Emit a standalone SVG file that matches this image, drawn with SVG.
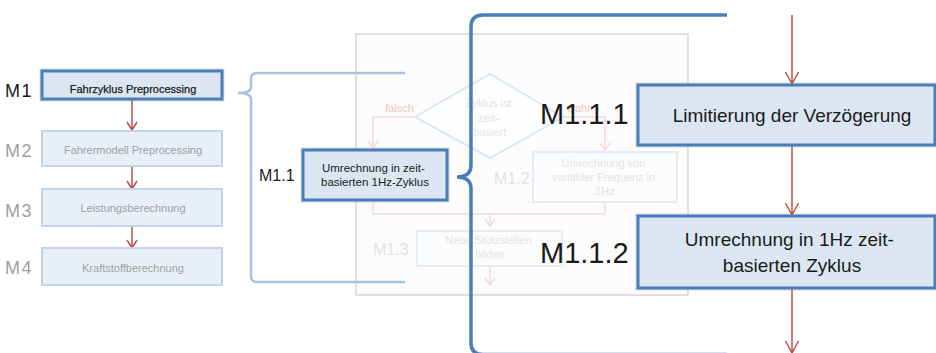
<svg xmlns="http://www.w3.org/2000/svg" width="936" height="353" viewBox="0 0 936 353">
  <defs>
    <style>
      text { font-family: "Liberation Sans", Arial, sans-serif; }
      .halo { fill: none; stroke: #8c8c8c; stroke-opacity: 0.3; stroke-width: 5; }
      .main { fill: #DCE6F2; stroke: #4A7EBB; stroke-width: 3; }
      .dim { fill: #E9EFF7; stroke: #C3D3E9; stroke-width: 2; }
      .ghost { fill: #FBFCFE; stroke: #E5ECF6; stroke-width: 2; }
      .flow { fill: none; stroke: #C0504D; stroke-width: 1.5; }
      .flowghost { fill: none; stroke: #F6DAD9; stroke-width: 1.5; }
      .lbl { fill: #1a1a1a; }
      .dimtxt { fill: #A0A0A0; }
      .ghosttxt { fill: #E3E3E3; }
      .brace-light { fill: none; stroke: #A9C2E3; stroke-width: 2.5; }
      .brace-dark { fill: none; stroke: #4A7EBB; stroke-width: 3.5; }
    </style>
  </defs>

  <rect width="936" height="353" fill="#ffffff"/>

  <!-- background sub-flowchart (faded) -->
  <g id="frame">
    <rect x="356" y="34" width="332" height="261" fill="#FCFCFC" stroke="#D6D6D6" stroke-width="1.5"/>
  </g>
  <g id="ghost-connectors">
    <path class="flowghost" d="M415,117 H373 V148"/>
    <path class="flowghost" d="M368,141 L373,148 L378,141"/>
    <path class="flowghost" d="M563,117 H605 V150"/>
    <path class="flowghost" d="M600,143 L605,150 L610,143"/>
    <path class="flowghost" d="M373,200 V214 H605 V202"/>
    <path class="flowghost" d="M490,214 V226"/>
    <path class="flowghost" d="M485,219 L490,226 L495,219"/>
    <path class="flowghost" d="M490,266 V285"/>
    <path class="flowghost" d="M485,278 L490,285 L495,278"/>
    <text x="414" y="112" text-anchor="end" font-size="11" fill="#F3C4C3">falsch</text>
    <text x="567" y="112" font-size="11" fill="#F3C4C3">wahr</text>
  </g>
  <g id="ghost-decision">
    <polygon points="490,74 563,117 490,158 415,117" fill="#FDFEFF" stroke="#DDE7F3" stroke-width="2"/>
    <text class="ghosttxt" font-size="11" text-anchor="middle">
      <tspan x="490" y="107">Zyklus ist</tspan>
      <tspan x="490" y="122">zeit-</tspan>
      <tspan x="490" y="136">basiert</tspan>
    </text>
  </g>
  <g id="ghost-m12">
    <rect class="ghost" x="533" y="152" width="144" height="50"/>
    <text class="ghosttxt" font-size="11" text-anchor="middle">
      <tspan x="605" y="167">Umrechnung von</tspan>
      <tspan x="605" y="181">variabler Frequenz in</tspan>
      <tspan x="605" y="195">1Hz</tspan>
    </text>
    <text class="ghosttxt" x="494" y="184" font-size="16">M1.2</text>
  </g>
  <g id="ghost-m13">
    <rect class="ghost" x="417" y="231" width="145" height="35"/>
    <text class="ghosttxt" font-size="11" text-anchor="middle">
      <tspan x="490" y="244">Neue Stützstellen</tspan>
      <tspan x="490" y="258">bilden</tspan>
    </text>
    <text class="ghosttxt" x="373" y="255" font-size="16">M1.3</text>
  </g>

  <!-- left process chain -->
  <g id="connectors">
    <path class="flow" d="M132,99 V130 M127,122 L132,130 L137,122"/>
    <path class="flow" d="M132,167 V189 M127,181 L132,189 L137,181"/>
    <path class="flow" d="M132,226 V248 M127,240 L132,248 L137,240"/>
    <path class="flow" d="M792,15 V84 M785.5,72 L792,84 L798.5,72"/>
    <path class="flow" d="M792,146 V215 M785.5,203 L792,215 L798.5,203"/>
    <path class="flow" d="M792,289 V353 M785.5,341 L792,353 L798.5,341"/>
  </g>

  <g id="m1">
    <rect class="halo" x="42" y="71" width="180" height="28"/>
    <rect class="main" x="42" y="71" width="180" height="28"/>
    <text class="lbl" x="133" y="93" font-size="11" text-anchor="middle" stroke="#1a1a1a" stroke-width="0.25">Fahrzyklus Preprocessing</text>
    <text class="lbl" x="5" y="97" font-size="18" letter-spacing="1.5">M1</text>
  </g>
  <g id="m2">
    <rect class="dim" x="42" y="131" width="180" height="35"/>
    <text class="dimtxt" x="133" y="154" font-size="11" text-anchor="middle">Fahrermodell Preprocessing</text>
    <text class="dimtxt" x="5" y="157" font-size="18" letter-spacing="1.5">M2</text>
  </g>
  <g id="m3">
    <rect class="dim" x="42" y="189" width="180" height="37"/>
    <text class="dimtxt" x="133" y="212" font-size="11" text-anchor="middle">Leistungsberechnung</text>
    <text class="dimtxt" x="5" y="217" font-size="18" letter-spacing="1.5">M3</text>
  </g>
  <g id="m4">
    <rect class="dim" x="42" y="248" width="180" height="37"/>
    <text class="dimtxt" x="133" y="272" font-size="11" text-anchor="middle">Kraftstoffberechnung</text>
    <text class="dimtxt" x="5" y="274" font-size="18" letter-spacing="1.5">M4</text>
  </g>

  <!-- expansion of M1 -->
  <g id="brace-m1">
    <path class="brace-light" d="M405,73 H257 Q251,73 251,79 V87 Q251,93 238,93 Q251,93 251,99 V276 Q251,282 257,282 H405"/>
  </g>
  <g id="m1-1">
    <rect class="halo" x="303" y="150" width="144" height="50"/>
    <rect class="main" x="303" y="150" width="144" height="50"/>
    <text class="lbl" font-size="11.5" text-anchor="middle">
      <tspan x="375" y="172">Umrechnung in zeit-</tspan>
      <tspan x="375" y="186">basierten 1Hz-Zyklus</tspan>
    </text>
    <text class="lbl" x="259" y="181" font-size="16">M1.1</text>
  </g>

  <!-- expansion of M1.1 -->
  <g id="brace-m1-1">
    <path class="brace-dark" d="M727,15 H483 Q471,15 471,27 V165 Q471,177 457,177 Q471,177 471,189 V343 Q471,354.5 483,354.5 H727"/>
  </g>
  <g id="m1-1-1">
    <rect class="halo" x="638" y="85" width="297" height="60"/>
    <rect class="main" x="638" y="85" width="297" height="60"/>
    <text class="lbl" x="792" y="122" font-size="19" text-anchor="middle">Limitierung der Verzögerung</text>
    <text class="lbl" x="540" y="124" font-size="29">M1.1.1</text>
  </g>
  <g id="m1-1-2">
    <rect class="halo" x="638" y="216" width="297" height="72"/>
    <rect class="main" x="638" y="216" width="297" height="72"/>
    <text class="lbl" font-size="19" text-anchor="middle">
      <tspan x="792" y="246">Umrechnung in 1Hz zeit-</tspan>
      <tspan x="792" y="272">basierten Zyklus</tspan>
    </text>
    <text class="lbl" x="540" y="263" font-size="29">M1.1.2</text>
  </g>
</svg>
